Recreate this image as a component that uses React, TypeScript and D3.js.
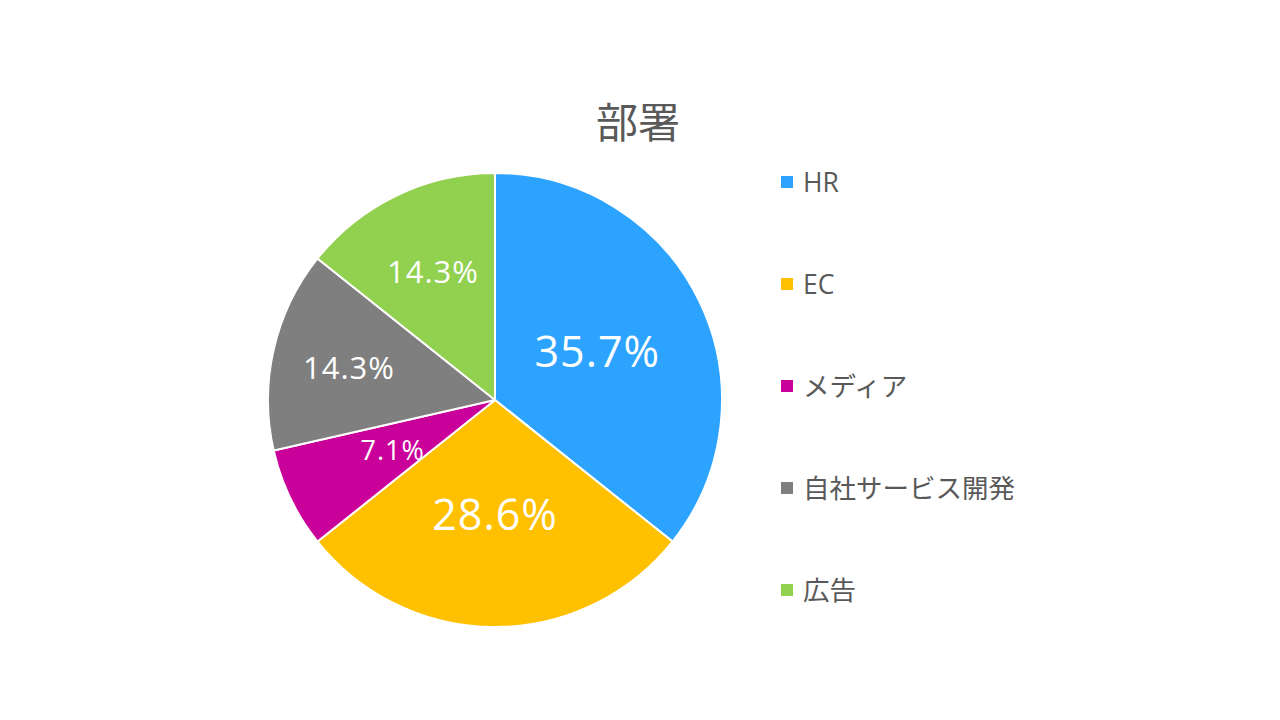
import React from "react";
import * as d3 from "d3";

const categories = ["HR", "EC", "メディア", "自社サービス開発", "広告"];
const values = [5, 4, 1, 2, 2];
const colors = ["#2CA3FF", "#FFC000", "#C9009A", "#7F7F7F", "#92D050"];
const labelFontSizes = [43, 43, 27, 31, 31];
const labelRadiusFactors = [0.5, 0.5, 0.5, 0.66, 0.63];
const title = "部署";

const W = 1280;
const H = 720;
const cx = 495;
const cy = 400;
const R = 227;
const FONT = "'Open Sans', 'Noto Sans CJK JP', sans-serif";

export default function App() {
  const total = d3.sum(values);
  const pie = d3.pie<number>().sort(null).value((d) => d)(values);
  const arc = d3.arc<d3.PieArcDatum<number>>().innerRadius(0).outerRadius(R);
  const fmt = d3.format(".1%");
  const legendY = d3.scalePoint<string>().domain(categories).range([182, 590]);

  return (
    <svg width={W} height={H} style={{ position: "absolute", left: 0, top: 0, background: "#fff" }}>
      <rect width={W} height={H} fill="#fff" />
      <text x={638} y={138} textAnchor="middle" fontSize={42} fill="#595959" fontFamily={FONT}>
        {title}
      </text>
      <g transform={`translate(${cx},${cy})`}>
        {pie.map((p, i) => (
          <path key={i} d={arc(p) || ""} fill={colors[i]} stroke="#fff" strokeWidth={2} />
        ))}
        {pie.map((p, i) => {
          const a = (p.startAngle + p.endAngle) / 2;
          const r = R * labelRadiusFactors[i];
          const x = r * Math.sin(a);
          const y = -r * Math.cos(a);
          return (
            <text
              key={"l" + i}
              x={x}
              y={y}
              textAnchor="middle"
              dominantBaseline="central"
              fontSize={labelFontSizes[i]}
              letterSpacing={1}
              fill="#fff"
              fontFamily={FONT}
            >
              {fmt(values[i] / total)}
            </text>
          );
        })}
      </g>
      <g>
        {categories.map((c, i) => {
          const y = legendY(c) as number;
          return (
            <g key={c}>
              <rect x={781} y={y - 6} width={12} height={12} fill={colors[i]} />
              <text
                x={803}
                y={y}
                dominantBaseline="central"
                fontSize={26.5}
                fill="#595959"
                fontFamily={FONT}
              >
                {c}
              </text>
            </g>
          );
        })}
      </g>
    </svg>
  );
}
